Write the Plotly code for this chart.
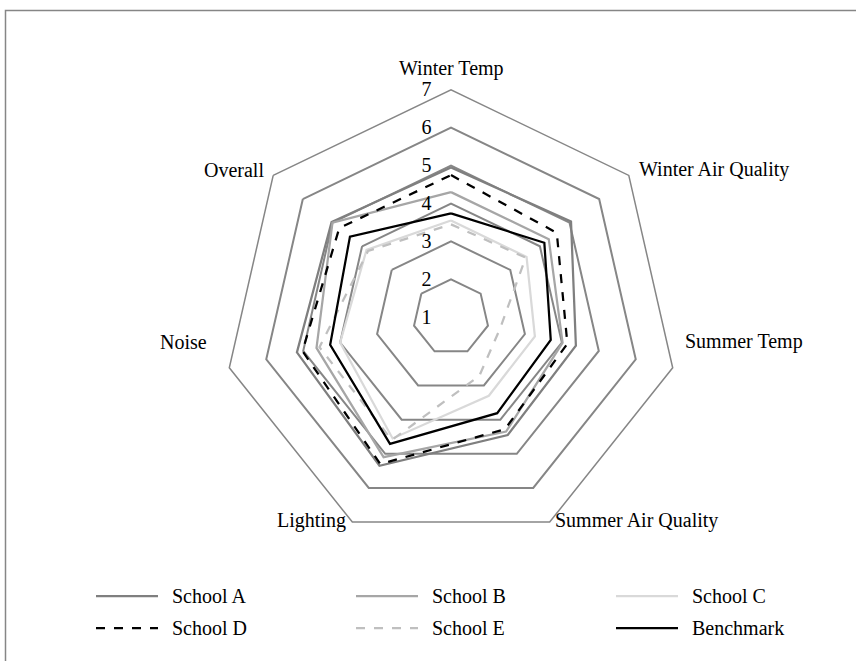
import plotly.graph_objects as go

# survey categories (clockwise from the top)
categories = ['Winter Temp', 'Winter Air Quality', 'Summer Temp', 'Summer Air Quality',
              'Lighting', 'Noise', 'Overall']

# mean scores
school_a = [4.95, 5.05, 4.38, 4.45, 5.35, 5.17, 5.03]
school_b = [4.30, 4.30, 4.02, 4.35, 5.10, 4.64, 5.00]
school_c = [3.55, 3.55, 3.27, 3.30, 4.55, 4.00, 3.85]
school_d = [4.75, 4.57, 4.15, 4.28, 5.30, 5.02, 4.77]
school_e = [3.45, 3.52, 2.33, 2.72, 4.60, 4.56, 3.80]
benchmark = [3.74, 4.15, 3.70, 3.81, 4.71, 4.27, 4.41]

radial_ticks = [1, 2, 3, 4, 5, 6, 7]

series = [
    ('School A', school_a, '#7f7f7f', 'solid'),
    ('School B', school_b, '#a6a6a6', 'solid'),
    ('School C', school_c, '#d9d9d9', 'solid'),
    ('School D', school_d, '#000000', 'dash'),
    ('School E', school_e, '#bfbfbf', 'dash'),
    ('Benchmark', benchmark, '#000000', 'solid'),
]

W, H = 856, 661
GRID = '#868686'
FONT = 'Liberation Serif'
FS = 20

fig = go.Figure()
for name, vals, color, dash in series:
    fig.add_trace(go.Scatterpolar(
        r=vals + vals[:1], theta=categories + categories[:1],
        mode='lines', name=name, showlegend=False,
        line=dict(color=color, width=2.25, dash=dash),
    ))

# polar sits in a square: centre (451, 317), radius ~227 px
cx, cy, rad = 451, 317.2, 227.4
fig.update_layout(
    width=W, height=H,
    margin=dict(l=0, r=0, t=0, b=0),
    paper_bgcolor='white', plot_bgcolor='white',
    font=dict(family=FONT, size=FS, color='black'),
    polar=dict(
        domain=dict(x=[(cx - rad) / W, (cx + rad) / W],
                    y=[(H - cy - rad) / H, (H - cy + rad) / H]),
        bgcolor='white',
        gridshape='linear',
        radialaxis=dict(range=[1, 7], tickvals=radial_ticks, angle=90,
                        side='counterclockwise', showline=False,
                        gridcolor=GRID, gridwidth=1.5, tickangle=90,
                        ticks='outside', ticklen=12, tickcolor='rgba(0,0,0,0)',
                        tickfont=dict(family=FONT, size=FS, color='black')),
        angularaxis=dict(rotation=90, direction='clockwise', showgrid=False,
                         linecolor=GRID, linewidth=1.5, ticks='',
                         showticklabels=False),
    ),
)

# category labels placed like the original (pixel positions)
label_pos = [(451, 68, 'center'), (637, 170, 'left'), (683, 342, 'left'),
             (553, 520, 'left'), (348, 520, 'right'), (209, 342, 'right'),
             (266, 170, 'right')]
for cat, (lx, ly, anchor) in zip(categories, label_pos):
    fig.add_annotation(x=lx / W, y=(H - ly) / H, xref='paper', yref='paper',
                       text=cat, showarrow=False, xanchor=anchor, yanchor='middle',
                       font=dict(family=FONT, size=FS, color='black'))

# outer frame (only left and top edges show in the picture)
fig.add_shape(type='rect', xref='paper', yref='paper',
              x0=5.5 / W, x1=1.2, y0=-0.2, y1=(H - 10.5) / H,
              line=dict(color=GRID, width=1.5))

# legend drawn by hand: 3 columns x 2 rows, long sample lines
col_x = [96, 356, 616]
row_y = [596, 628]
for i, (name, vals, color, dash) in enumerate(series):
    x0 = col_x[i % 3]
    y = row_y[i // 3]
    fig.add_shape(type='line', xref='paper', yref='paper',
                  x0=x0 / W, x1=(x0 + 62) / W, y0=(H - y) / H, y1=(H - y) / H,
                  line=dict(color=color, width=2.25, dash=dash))
    fig.add_annotation(x=(x0 + 74) / W, y=(H - y) / H, xref='paper', yref='paper',
                       text=name, showarrow=False, xanchor='left', yanchor='middle',
                       font=dict(family=FONT, size=FS, color='black'))

# drop the browser's default body margin so the figure starts at (0, 0)
fig.write_html('out.html', config={'displayModeBar': False},
               post_script="document.body.style.margin='0';")
